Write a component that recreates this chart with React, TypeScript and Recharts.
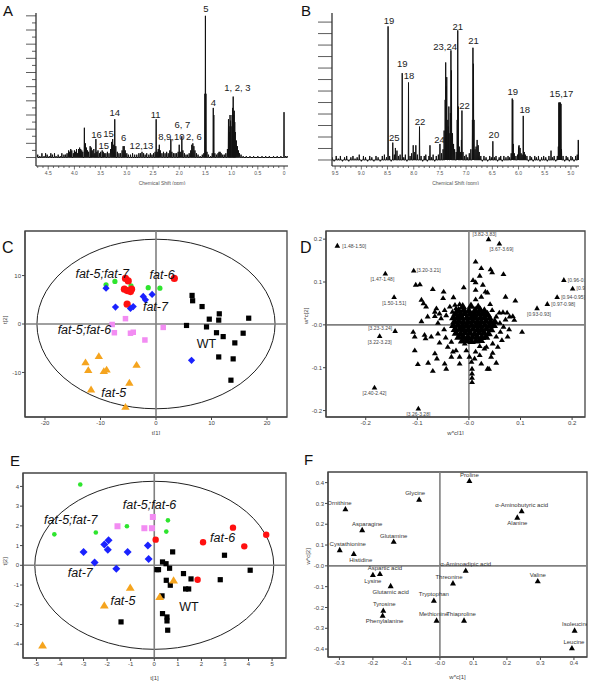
import React from 'react';
import {
  LineChart,
  Line,
  XAxis,
  YAxis,
  ReferenceDot,
  ReferenceLine,
  ReferenceArea,
  ScatterChart,
  Scatter,
} from 'recharts';

const FONT = 'Liberation Sans, Arial, Helvetica, sans-serif';

// ---- panel A : aliphatic region, [ppm, % of max]
const specA: [number, number][] = [
  [4.7, 2], [4.66, 1], [4.62, 3], [4.58, 1], [4.55, 3], [4.52, 2], [4.48, 1], [4.45, 3], [4.42, 2], [4.38, 3],
  [4.35, 1], [4.31, 2], [4.27, 1], [4.24, 3], [4.2, 2], [4.17, 2], [4.14, 3], [4.11, 5], [4.09, 4], [4.07, 6],
  [4.05, 5], [4.02, 3], [4.0, 5], [3.98, 4], [3.96, 6], [3.94, 3], [3.92, 6], [3.9, 7], [3.88, 6], [3.86, 5],
  [3.84, 4], [3.81, 21], [3.79, 10], [3.77, 7], [3.75, 5], [3.73, 4], [3.7, 8], [3.68, 7], [3.66, 5], [3.63, 6],
  [3.61, 3], [3.59, 13], [3.57, 4], [3.55, 5], [3.52, 3], [3.5, 4], [3.47, 5], [3.45, 4], [3.43, 3], [3.4, 3],
  [3.37, 4], [3.34, 3], [3.31, 6], [3.29, 11], [3.27, 13], [3.25, 9], [3.23, 27], [3.21, 8], [3.18, 4], [3.15, 3],
  [3.12, 3], [3.09, 5], [3.07, 8], [3.05, 8], [3.03, 5], [3.0, 3], [2.97, 2], [2.93, 2], [2.89, 3], [2.85, 2],
  [2.81, 2], [2.77, 3], [2.74, 3], [2.71, 4], [2.68, 3], [2.65, 2], [2.62, 3], [2.58, 2], [2.55, 3], [2.52, 2],
  [2.49, 3], [2.46, 4], [2.44, 27], [2.42, 4], [2.4, 6], [2.38, 9], [2.36, 5], [2.33, 3], [2.3, 4], [2.27, 3],
  [2.24, 4], [2.21, 3], [2.18, 5], [2.16, 13], [2.14, 4], [2.11, 3], [2.08, 3], [2.05, 3], [2.02, 4], [2.0, 9],
  [1.98, 4], [1.95, 15], [1.93, 5], [1.9, 3], [1.87, 2], [1.84, 2], [1.81, 3], [1.78, 5], [1.76, 9], [1.74, 10],
  [1.72, 8], [1.7, 5], [1.67, 3], [1.64, 2], [1.6, 1], [1.56, 2], [1.53, 3], [1.51, 45], [1.5, 100], [1.49, 45],
  [1.47, 4], [1.44, 2], [1.4, 1], [1.37, 3], [1.35, 35], [1.34, 30], [1.32, 3], [1.29, 2], [1.26, 3], [1.24, 4],
  [1.22, 4], [1.2, 3], [1.17, 2], [1.14, 2], [1.11, 3], [1.08, 6], [1.06, 27], [1.05, 22], [1.04, 18], [1.03, 30],
  [1.02, 26], [1.01, 22], [0.99, 30], [0.98, 35], [0.97, 43], [0.96, 30], [0.95, 33], [0.94, 25], [0.93, 18],
  [0.91, 12], [0.89, 8], [0.87, 5], [0.85, 3], [0.82, 2], [0.78, 1], [0.72, 1], [0.65, 1], [0.58, 1], [0.5, 1],
  [0.42, 1], [0.35, 1], [0.28, 1], [0.2, 1], [0.13, 1], [0.06, 1], [0.0, 32], [-0.03, 1], [-0.06, 1],
];
const labelsA: [string, number, number][] = [
  ['5', 1.49, 105], ['4', 1.35, 39], ['1, 2, 3', 0.89, 49], ['14', 3.23, 32], ['11', 2.45, 30.5],
  ['16', 3.58, 16], ['15', 3.35, 17], ['15', 3.44, 8.6], ['6', 3.06, 14], ['12,13', 2.72, 8.6],
  ['8,9,10', 2.15, 15], ['6, 7', 1.94, 23], ['2, 6', 1.72, 14.5],
];
const xTicksA = [
  4.7, 4.6, 4.5, 4.4, 4.3, 4.2, 4.1, 4.0, 3.9, 3.8, 3.7, 3.6, 3.5, 3.4, 3.3, 3.2, 3.1, 3.0, 2.9, 2.8, 2.7, 2.6,
  2.5, 2.4, 2.3, 2.2, 2.1, 2.0, 1.9, 1.8, 1.7, 1.6, 1.5, 1.4, 1.3, 1.2, 1.1, 1.0, 0.9, 0.8, 0.7, 0.6, 0.5, 0.4,
  0.3, 0.2, 0.1, 0,
];
const yTicksA = [0, 5, 10, 15, 20, 25, 30, 35, 40, 45, 50, 55, 60, 65, 70, 75, 80, 85, 90, 95, 100];

// ---- panel B : aromatic region
const specB: [number, number][] = [
  [9.56, 2], [9.52, -1], [9.48, 3], [9.44, 1], [9.4, 3], [9.36, -1], [9.32, 2], [9.28, 3], [9.24, -1], [9.2, 2],
  [9.16, 3], [9.12, 1], [9.08, 2], [9.04, 4], [9.0, -1], [8.96, 3], [8.92, 2], [8.88, -1], [8.84, 3], [8.8, 2],
  [8.76, -1], [8.72, 3], [8.68, 2], [8.64, -1], [8.6, 3], [8.56, 4], [8.52, 2], [8.49, 100], [8.46, 3], [8.43, -1],
  [8.4, 13], [8.37, 4], [8.35, 9], [8.32, 7], [8.29, 3], [8.26, 4], [8.22, 65], [8.19, 2], [8.16, 4], [8.13, -1],
  [8.1, 58], [8.07, 3], [8.04, 5], [8.01, 11], [7.98, 6], [7.96, 11], [7.93, 4], [7.89, 25], [7.86, 3], [7.83, -1],
  [7.8, 3], [7.77, 4], [7.74, -1], [7.71, 3], [7.69, 11], [7.66, 2], [7.63, 4], [7.6, -1], [7.57, 3], [7.53, 4],
  [7.5, 12], [7.47, 5], [7.44, 8], [7.42, 22], [7.4, 45], [7.39, 73], [7.38, 55], [7.37, 62], [7.35, 30],
  [7.34, 25], [7.33, 40], [7.31, 20], [7.3, 35], [7.29, 82], [7.28, 67], [7.26, 20], [7.24, 12], [7.22, 8],
  [7.19, 6], [7.17, 30], [7.16, 97], [7.15, 40], [7.13, 10], [7.11, 6], [7.09, 15], [7.08, 37], [7.06, 6],
  [7.03, 3], [7.0, 4], [6.97, 2], [6.94, 5], [6.91, 8], [6.88, 30], [6.87, 84], [6.86, 72], [6.85, 30], [6.83, 8],
  [6.81, 10], [6.79, 15], [6.77, 11], [6.75, 6], [6.72, 3], [6.69, -1], [6.66, 3], [6.62, 2], [6.59, -1],
  [6.55, 3], [6.52, 2], [6.49, 14], [6.46, 2], [6.43, 3], [6.4, -1], [6.37, 2], [6.34, 3], [6.31, -1], [6.28, 3],
  [6.24, 2], [6.2, 3], [6.17, 2], [6.14, 5], [6.12, 46], [6.11, 45], [6.1, 12], [6.08, 5], [6.05, 3], [6.02, 4],
  [6.0, 10], [5.99, 11], [5.97, 9], [5.95, 5], [5.93, 4], [5.91, 33], [5.89, 6], [5.87, 4], [5.84, 3], [5.81, -1],
  [5.78, 3], [5.75, 2], [5.72, -1], [5.69, 3], [5.66, 2], [5.62, 3], [5.59, -1], [5.56, 2], [5.52, 3], [5.48, 2],
  [5.45, -1], [5.42, 3], [5.38, 7], [5.35, 2], [5.32, 3], [5.29, -1], [5.26, 3], [5.24, 10], [5.23, 43],
  [5.22, 43], [5.21, 42], [5.2, 43], [5.19, 42], [5.18, 8], [5.15, 3], [5.12, -1], [5.09, 3], [5.06, 2],
  [5.03, -1], [5.0, 3], [4.97, 2], [4.94, -1], [4.91, 3], [4.88, 4], [4.86, 15], [4.85, 14],
];
const labelsB: [string, number, number][] = [
  ['19', 8.47, 104], ['25', 8.37, 17], ['19', 8.22, 72], ['18', 8.09, 63], ['22', 7.88, 29], ['24', 7.51, 15],
  ['23,24', 7.4, 85], ['21', 7.16, 100], ['21', 6.86, 89], ['22', 7.03, 41], ['20', 6.47, 19], ['19', 6.11, 51],
  ['18', 5.88, 38], ['15,17', 5.18, 50],
];
const xTicksB = [
  9.5, 9.4, 9.3, 9.2, 9.1, 9.0, 8.9, 8.8, 8.7, 8.6, 8.5, 8.4, 8.3, 8.2, 8.1, 8.0, 7.9, 7.8, 7.7, 7.6, 7.5, 7.4,
  7.3, 7.2, 7.1, 7.0, 6.9, 6.8, 6.7, 6.6, 6.5, 6.4, 6.3, 6.2, 6.1, 6.0, 5.9, 5.8, 5.7, 5.6, 5.5, 5.4, 5.3, 5.2,
  5.1, 5.0, 4.9,
];
const yTicksB = [0, 8.6, 17.2, 25.8, 34.4, 43, 51.6, 60.2, 68.8, 77.4, 86, 94.6, 103.2];

// ---- panel C : scores t[1]/t[2]
const cFat6: [number, number][] = [[-5.5, 9.4], [-5.0, 8.9], [-5.7, 7.2], [-5.2, 6.9], [-4.6, 6.7], [-4.4, 7.2], [3.3, 9.4], [-5.2, 4.1]];
const cFat57: [number, number][] = [[-9.0, 8.1], [-7.4, 8.8], [-4.5, 7.9], [-1.4, 7.5], [0.7, 7.4]];
const cFat7: [number, number][] = [[-9.0, 7.4], [-7.3, 3.5], [-4.6, 3.2], [-4.1, 3.6], [-2.3, 5.7], [-1.9, 5.0], [-0.7, 6.1], [6.4, -7.5]];
const cFat56: [number, number][] = [[-5.5, 1.1], [-7.9, -0.1], [-7.5, -1.8], [-4.6, -1.9], [-4.1, -1.7], [-2.0, -3.3], [1.3, -0.7]];
const cFat5: [number, number][] = [[-12.7, -7.9], [-12.2, -9.5], [-10.3, -6.6], [-9.4, -9.7], [-8.9, -9.4], [-3.5, -8.4], [-4.8, -12.1], [-11.7, -13.5], [-5.5, -17.1]];
const cWT: [number, number][] = [
  [6.5, 5.9], [6.6, 4.8], [8.3, 3.6], [11.4, 2.1], [9.6, 1.0], [11.3, 0.8], [16.7, 1.2], [5.5, -0.3], [9.1, -0.6],
  [10.9, -1.8], [12.1, -2.6], [15.7, -1.9], [14.2, -3.9], [11.3, -6.8], [13.9, -7.2], [13.5, -11.6],
];
const cGroupLabels: [string, number, number][] = [
  ['fat-5;fat-7', -9.7, 10.5], ['fat-6', 1.1, 10.3], ['fat-7', -0.1, 3.7], ['fat-5;fat-6', -12.9, -1.2], ['WT', 9.1, -4.1], ['fat-5', -7.6, -14.1],
];
const cXTicks = [-20, -10, 0, 10, 20];
const cYTicks = [-10, 0, 10];

// ---- panel D : loadings w*c[1]/w*c[2]
const dLabeled: [string, number, number][] = [
  ['[1.48-1.50]', -0.255, 0.185], ['[1.47-1.48]', -0.162, 0.12], ['[1.50-1.51]', -0.145, 0.065],
  ['[3.20-3.21]', -0.107, 0.127], ['[3.82-3.83]', 0.038, 0.2], ['[3.67-3.69]', 0.059, 0.19],
  ['[0.96-0.97]', 0.184, 0.105], ['[0.95-0.96]', 0.201, 0.085], ['[0.94-0.95]', 0.171, 0.065],
  ['[0.97-0.98]', 0.152, 0.049], ['[0.93-0.93]', 0.132, 0.039], ['[3.23-3.24]', -0.143, -0.014],
  ['[3.22-3.23]', -0.173, -0.026], ['[2.40-2.42]', -0.183, -0.146], ['[3.26-3.28]', -0.098, -0.195],
];
const dOuter: [number, number][] = [
  [-0.103, 0.094], [-0.095, 0.095], [-0.07, 0.084], [-0.049, 0.078], [-0.05, 0.063], [-0.03, 0.065], [-0.01, 0.088],
  [0.013, 0.148], [0.024, 0.133], [0.008, 0.105], [0.013, 0.1], [0.027, 0.094], [0.042, 0.13], [0.045, 0.123],
  [0.021, 0.115], [0.067, 0.119], [0.013, 0.082], [0.032, 0.078], [0.036, 0.076], [0.024, 0.066], [0.071, 0.066],
  [0.09, 0.057], [0.013, 0.06], [-0.092, 0.059], [-0.088, 0.051], [-0.083, 0.043], [-0.08, 0.02], [-0.092, 0.009],
  [-0.066, 0.031], [-0.066, 0.021], [-0.063, 0.039], [-0.057, 0.027], [-0.047, 0.035], [-0.044, 0.023],
  [-0.054, 0.016], [-0.037, 0.043], [-0.032, 0.031], [-0.027, 0.047], [-0.018, 0.049], [-0.025, 0.039],
  [-0.012, 0.043], [0.059, 0.029], [0.066, 0.03], [0.074, 0.029], [0.079, 0.02], [0.085, 0.021], [0.053, 0.02],
  [0.045, 0.035], [0.041, 0.049], [0.071, 0.013], [0.088, 0.012], [0.103, -0.016], [0.067, -0.004],
  [0.061, -0.016], [0.053, -0.027], [0.075, -0.027], [0.064, -0.035], [0.046, -0.043], [0.056, -0.051],
  [0.034, -0.027], [-0.108, -0.016], [-0.105, -0.027], [-0.086, -0.023], [-0.084, -0.031], [-0.073, -0.027],
  [-0.06, -0.02], [-0.057, -0.041], [-0.105, -0.059], [-0.099, -0.091], [-0.079, -0.088], [-0.066, -0.066],
  [-0.062, -0.078], [-0.07, -0.107], [-0.047, -0.09], [-0.044, -0.102], [-0.041, -0.051], [-0.045, -0.029],
  [-0.034, -0.039], [-0.031, -0.062], [-0.025, -0.059], [-0.018, -0.074], [-0.018, -0.09], [-0.034, -0.074],
  [-0.008, -0.043], [-0.005, -0.059], [0.005, -0.086], [0.006, -0.102], [0.006, -0.113], [0.006, -0.123],
  [0.006, -0.133], [0.001, -0.074], [0.011, -0.078], [0.021, -0.07], [0.024, -0.09], [0.03, -0.055],
  [0.036, -0.102], [0.039, -0.102], [0.043, -0.074], [0.053, -0.088], [0.034, -0.051], [0.046, -0.065],
  [0.013, -0.062], [0.021, -0.049], [-0.06, 0.005], [-0.048, -0.01], [0.06, 0.005], [0.078, -0.01],
];
const dCore: [number, number][] = [
  [-0.012, 0.044], [0.004, 0.045], [0.018, 0.043],
  [-0.02, 0.035], [-0.01, 0.036], [0.0, 0.034], [0.012, 0.035], [0.022, 0.036], [0.03, 0.034],
  [-0.026, 0.027], [-0.017, 0.026], [-0.008, 0.028], [0.002, 0.027], [0.01, 0.026], [0.019, 0.028], [0.028, 0.027], [0.036, 0.026],
  [-0.03, 0.018], [-0.022, 0.019], [-0.013, 0.017], [-0.004, 0.018], [0.005, 0.019], [0.013, 0.017], [0.022, 0.018], [0.03, 0.019], [0.04, 0.017],
  [-0.028, 0.009], [-0.02, 0.01], [-0.011, 0.008], [-0.002, 0.009], [0.007, 0.01], [0.016, 0.008], [0.024, 0.009], [0.033, 0.01], [0.042, 0.008], [0.05, 0.009],
  [-0.03, 0.0], [-0.021, 0.001], [-0.012, -0.001], [-0.004, 0.0], [0.005, 0.001], [0.014, -0.001], [0.022, 0.0], [0.031, 0.001], [0.04, -0.001], [0.048, 0.0],
  [-0.027, -0.009], [-0.018, -0.008], [-0.01, -0.01], [-0.001, -0.009], [0.008, -0.008], [0.017, -0.01], [0.025, -0.009], [0.034, -0.008], [0.043, -0.01],
  [-0.025, -0.018], [-0.016, -0.019], [-0.007, -0.017], [0.002, -0.018], [0.011, -0.019], [0.02, -0.017], [0.029, -0.018], [0.038, -0.019],
  [-0.02, -0.027], [-0.011, -0.026], [-0.002, -0.028], [0.007, -0.027], [0.016, -0.026], [0.025, -0.028], [0.033, -0.027],
  [-0.013, -0.036], [-0.004, -0.035], [0.005, -0.037], [0.014, -0.036], [0.023, -0.035],
];
const dXTicks = [-0.2, -0.1, 0, 0.1, 0.2];
const dYTicks = [-0.2, -0.1, 0, 0.1, 0.2];

// ---- panel E : scores
const eFat57: [number, number][] = [[-3.14, 4.1], [-4.24, 1.57], [-2.48, 1.66], [-1.16, 1.98], [0.58, 2.28], [0.51, 1.71]];
const eFat56: [number, number][] = [[-1.56, 1.98], [-0.42, 1.88], [-0.06, 2.45], [-0.1, 1.88]];
const eFat6: [number, number][] = [[0.06, 1.3], [2.07, 1.17], [3.34, 1.91], [3.82, 0.96], [4.75, 1.55], [1.84, -0.73]];
const eFat7: [number, number][] = [[-3.0, 0.68], [-2.53, 0.14], [-2.12, 1.06], [-1.94, 1.27], [-1.97, 0.79], [-1.61, -0.17], [-1.13, 0.68], [-0.27, 1.01], [-0.24, 0.32]];
const eWT: [number, number][] = [
  [0.78, 0.68], [2.98, 0.51], [4.07, -0.25], [0.11, -0.22], [0.18, -0.22], [0.35, 0.17], [0.5, 0.08], [0.65, -0.15],
  [0.51, -0.76], [0.68, -1.01], [1.24, -0.42], [1.56, -0.69], [1.33, -1.2], [1.46, -1.2], [2.8, -0.73], [0.35, -2.45],
  [0.54, -2.62], [0.54, -2.82], [0.57, -3.29], [-1.41, -2.87], [0.33, -1.55],
];
const eFat5: [number, number][] = [[-1.02, -1.13], [-2.12, -2.03], [0.23, -1.6], [0.82, -0.76], [-4.74, -4.05]];
const eGroupLabels: [string, number, number][] = [
  ['fat-5;fat-6', -0.2, 3.07], ['fat-5;fat-7', -3.54, 2.33], ['fat-6', 2.9, 1.4], ['fat-7', -3.14, -0.39], ['fat-5', -1.33, -1.81], ['WT', 1.47, -2.08],
];
const eXTicks = [-5, -4, -3, -2, -1, 0, 1, 2, 3, 4, 5];
const eYTicks = [-4, -3, -2, -1, 0, 1, 2, 3, 4];

// ---- panel F : amino acid loadings
const fAmino: [string, number, number][] = [
  ['Proline', 0.088, 0.409], ['Glycine', -0.062, 0.319], ['Ornithine', -0.282, 0.273],
  ['\u03b1-Aminobutyric acid', 0.244, 0.264], ['Alanine', 0.231, 0.233], ['Asparagine', -0.232, 0.173],
  ['Glutamine', -0.138, 0.117], ['Cystathionine', -0.299, 0.077], ['Histidine', -0.257, 0.058],
  ['Aspartic acid', -0.179, -0.038], ['Lysine', -0.2, -0.043], ['\u03b1-Aminoadipic acid', 0.077, -0.022],
  ['Threonine', 0.039, -0.083], ['Valine', 0.292, -0.073], ['Glutamic acid', -0.147, -0.096],
  ['Tryptophan', -0.018, -0.166], ['Tyrosine', -0.169, -0.214], ['Phenylalanine', -0.171, -0.238],
  ['Methionine', -0.01, -0.262], ['Thiaproline', 0.072, -0.262], ['Isoleucine', 0.402, -0.31],
  ['Leucine', 0.394, -0.395],
];
const fXTicks = [-0.3, -0.2, -0.1, 0, 0.1, 0.2, 0.3, 0.4];
const fYTicks = [-0.4, -0.3, -0.2, -0.1, 0, 0.1, 0.2, 0.3, 0.4];

// label placement (dx, dy, anchor)
const dPlace: Record<string, [number, number, string]> = {
  '[1.48-1.50]': [5, 2, 'start'], '[1.47-1.48]': [-3, 8, 'middle'], '[1.50-1.51]': [0, 8, 'middle'],
  '[3.20-3.21]': [3, 2, 'start'], '[3.82-3.83]': [-4, -3, 'middle'], '[3.67-3.69]': [2, 8, 'middle'],
  '[0.96-0.97]': [4, 2, 'start'], '[0.95-0.96]': [4, 2, 'start'], '[0.94-0.95]': [4, 2, 'start'],
  '[0.97-0.98]': [4, 2, 'start'], '[0.93-0.93]': [2, 8, 'middle'], '[3.23-3.24]': [-3, -1, 'end'],
  '[3.22-3.23]': [0, 8, 'middle'], '[2.40-2.42]': [0, 8, 'middle'], '[3.26-3.28]': [0, 8, 'middle'],
};
const fPlace: Record<string, [number, number]> = {
  Proline: [0, -4], Glycine: [-4, -4], Ornithine: [-6, -4], '\u03b1-Aminobutyric acid': [0, -4],
  Alanine: [0, 8], Asparagine: [5, -4], Glutamine: [0, -4], Cystathionine: [8, -4], Histidine: [7, 8],
  'Aspartic acid': [5, -4], Lysine: [0, 8], '\u03b1-Aminoadipic acid': [0, -4], Threonine: [-4, -4],
  Valine: [0, -4], 'Glutamic acid': [0, 8], Tryptophan: [0, -4], Tyrosine: [1, -4], Phenylalanine: [2, 8],
  Methionine: [-3, -4], Thiaproline: [-3, -4], Isoleucine: [1, -4], Leucine: [2, -4],
};

const spikes = (peaks: [number, number][]) => {
  const out: { ppm: number; v: number }[] = [];
  peaks.forEach(([p, h]) => {
    out.push({ ppm: p + 0.005, v: 0 });
    out.push({ ppm: p, v: h });
    out.push({ ppm: p - 0.005, v: 0 });
  });
  return out;
};
const pts = (a: [number, number][]) => a.map(([x, y]) => ({ x, y }));

const fmtPpm = (v: number) => (v === 0 ? '0' : v.toFixed(1));
const isHalf = (v: number) => Math.abs(v * 2 - Math.round(v * 2)) < 1e-6;

const SpecXTick = (props: any) => {
  const { x, y, payload } = props;
  const major = isHalf(payload.value);
  return (
    <g>
      <line x1={x} x2={x} y1={y} y2={y + (major ? 3.5 : 2)} stroke="#333" strokeWidth={0.7} />
      {major && (
        <text x={x} y={y + 9} textAnchor="middle" fontSize={5} fill="#555" fontFamily={FONT}>
          {fmtPpm(payload.value)}
        </text>
      )}
    </g>
  );
};
const makeYTick = (major: (v: number) => boolean, long: number, short: number) => (props: any) => {
  const { x, y, payload } = props;
  const len = major(payload.value) ? long : short;
  return <line x1={x - len} x2={x} y1={y} y2={y} stroke="#333" strokeWidth={0.8} />;
};
const YTickA = makeYTick((v) => v % 10 === 0, 10, 4);
const YTickB = makeYTick(() => true, 14, 14);

const circle = (fill: string, r: number) => (p: any) => <circle cx={p.cx} cy={p.cy} r={r} fill={fill} />;
const square = (fill: string, s: number) => (p: any) => (
  <rect x={p.cx - s / 2} y={p.cy - s / 2} width={s} height={s} fill={fill} />
);
const diamond = (fill: string, s: number) => (p: any) => (
  <polygon points={`${p.cx},${p.cy - s} ${p.cx + s},${p.cy} ${p.cx},${p.cy + s} ${p.cx - s},${p.cy}`} fill={fill} />
);
const tri = (fill: string, s: number) => (p: any) => (
  <polygon
    points={`${p.cx},${p.cy - s} ${p.cx + s * 1.1},${p.cy + s * 0.8} ${p.cx - s * 1.1},${p.cy + s * 0.8}`}
    fill={fill}
  />
);

const ellipseShape = (p: any) => (
  <ellipse
    cx={p.x + p.width / 2}
    cy={p.y + p.height / 2}
    rx={Math.abs(p.width) / 2}
    ry={Math.abs(p.height) / 2}
    fill="none"
    stroke="#222"
    strokeWidth={1}
  />
);

const tickStyle = { fontSize: 6, fill: '#444', fontFamily: FONT };
const axLabel = { fontSize: 6, fill: '#444', fontFamily: FONT };
const fmtZero = (v: number) => (v === 0 ? '-0.0' : v.toFixed(1));

const RED = '#ff1010';
const GREEN = '#2ee52e';
const BLUE = '#1a22ff';
const PINK = '#f28cf2';
const ORANGE = '#f5a41e';

function Spectrum({ data, labels, domain, xTicks, yTicks, yTick, yDomain, margin }: any) {
  return (
    <LineChart width={300} height={185} data={spikes(data)} margin={margin}>
      <XAxis
        type="number"
        dataKey="ppm"
        domain={domain}
        reversed
        allowDataOverflow
        ticks={xTicks}
        interval={0}
        tick={<SpecXTick />}
        tickLine={false}
        tickSize={0}
        tickMargin={0}
        height={19}
        axisLine={{ stroke: '#222', strokeWidth: 1.2 }}
        label={{ value: 'Chemical Shift (ppm)', position: 'insideBottom', offset: 0, fontSize: 5, fill: '#555', fontFamily: FONT }}
      />
      <YAxis
        type="number"
        domain={yDomain}
        allowDataOverflow
        ticks={yTicks}
        interval={0}
        tick={yTick}
        tickLine={false}
        tickSize={0}
        tickMargin={0}
        width={10}
        axisLine={{ stroke: '#222', strokeWidth: 1.2 }}
      />
      <Line type="linear" dataKey="v" stroke="#111" strokeWidth={1} dot={false} isAnimationActive={false} />
      {labels.map(([t, x, y]: any, i: number) => (
        <ReferenceDot
          key={i}
          x={x}
          y={y}
          r={0}
          fill="none"
          stroke="none"
          ifOverflow="visible"
          label={{ value: t, position: 'center', fontSize: 9.5, fill: '#222', fontFamily: FONT }}
        />
      ))}
    </LineChart>
  );
}

function ScoreAxes({ xd, yd, xt, yt, xh, yw, xl, yl, ex, ey, fmt }: any) {
  return [
    <XAxis
      key="x"
      type="number"
      dataKey="x"
      domain={xd}
      allowDataOverflow
      ticks={xt}
      interval={0}
      tick={tickStyle}
      tickSize={3}
      tickMargin={1}
      tickFormatter={fmt}
      height={xh}
      axisLine={{ stroke: '#444', strokeWidth: 1.2 }}
      tickLine={{ stroke: '#444' }}
      label={{ value: xl, position: 'insideBottom', offset: 0, ...axLabel }}
    />,
    <YAxis
      key="y"
      type="number"
      dataKey="y"
      domain={yd}
      allowDataOverflow
      ticks={yt}
      interval={0}
      tick={tickStyle}
      tickSize={3}
      tickMargin={1}
      tickFormatter={fmt}
      width={yw}
      axisLine={{ stroke: '#444', strokeWidth: 1.2 }}
      tickLine={{ stroke: '#444' }}
      label={{ value: yl, angle: -90, position: 'insideLeft', offset: 0, ...axLabel }}
    />,
    <ReferenceArea key="frame" x1={xd[0]} x2={xd[1]} y1={yd[0]} y2={yd[1]} fill="none" stroke="#444" strokeWidth={1.3} strokeOpacity={1} fillOpacity={0} />,
    <ReferenceLine key="vx" x={0} stroke="#808080" strokeWidth={1.6} />,
    <ReferenceLine key="hy" y={0} stroke="#808080" strokeWidth={1.6} />,
    ex ? (
      <ReferenceArea key="ell" x1={-ex} x2={ex} y1={-ey} y2={ey} shape={ellipseShape} ifOverflow="visible" />
    ) : null,
  ];
}

const groupLabel = (list: [string, number, number][]) =>
  list.map(([t, x, y], i) => (
    <ReferenceDot
      key={'g' + i}
      x={x}
      y={y}
      r={0}
      fill="none"
      stroke="none"
      ifOverflow="visible"
      label={{
        value: t,
        position: 'center',
        fontSize: 12.5,
        fontStyle: t === 'WT' ? 'normal' : 'italic',
        fill: '#111',
        fontFamily: FONT,
      }}
    />
  ));

const dLabelShape = (p: any) => {
  const pl = dPlace[p.payload.name] || [0, 8, 'middle'];
  return (
    <g>
      <polygon points={`${p.cx},${p.cy - 2.8} ${p.cx + 2.8},${p.cy + 2.1} ${p.cx - 2.8},${p.cy + 2.1}`} fill="#000" />
      <text x={p.cx + pl[0]} y={p.cy + pl[1]} textAnchor={pl[2]} fontSize={5} fill="#444" fontFamily={FONT}>
        {p.payload.name}
      </text>
    </g>
  );
};
const fLabelShape = (p: any) => {
  const pl = fPlace[p.payload.name] || [0, -4];
  return (
    <g>
      <polygon points={`${p.cx},${p.cy - 3} ${p.cx + 3},${p.cy + 2.3} ${p.cx - 3},${p.cy + 2.3}`} fill="#000" />
      <text x={p.cx + pl[0]} y={p.cy + pl[1]} textAnchor="middle" fontSize={6} fill="#333" fontFamily={FONT}>
        {p.payload.name}
      </text>
    </g>
  );
};

const letter = (t: string, left: number, top: number, size = 16) => (
  <div style={{ position: 'absolute', left, top, fontSize: size, fontFamily: FONT, lineHeight: 1, color: '#111' }}>{t}</div>
);

export default function App() {
  const box = (left: number, top: number) => ({ position: 'absolute' as const, left, top });
  return (
    <div style={{ position: 'absolute', left: 0, top: 0, width: 600, height: 690, background: '#fff', overflow: 'hidden' }}>
      <div style={box(0, 0)}>
        <Spectrum
          data={specA}
          labels={labelsA}
          domain={[-0.076, 4.733]}
          xTicks={xTicksA}
          yTicks={yTicksA}
          yTick={<YTickA />}
          yDomain={[-6, 102]}
          margin={{ top: 13, right: 12, left: 26, bottom: 0 }}
        />
      </div>
      <div style={box(300, 0)}>
        <Spectrum
          data={specB}
          labels={labelsB}
          domain={[4.846, 9.56]}
          xTicks={xTicksB}
          yTicks={yTicksB}
          yTick={<YTickB />}
          yDomain={[-4.5, 110]}
          margin={{ top: 13, right: 21, left: 22, bottom: 0 }}
        />
      </div>

      <div style={box(0, 200)}>
        <ScatterChart width={300} height={235} margin={{ top: 31, right: 13, left: 5, bottom: 0 }}>
          {ScoreAxes({ xd: [-23.6, 23.6], yd: [-19.2, 19.2], xt: cXTicks, yt: cYTicks, xh: 18, yw: 20, xl: 't[1]', yl: 't[2]', ex: 21.45, ey: 17.5 })}
          <Scatter data={pts(cFat57)} shape={circle(GREEN, 2.6)} isAnimationActive={false} />
          <Scatter data={pts(cFat6)} shape={circle(RED, 3.6)} isAnimationActive={false} />
          <Scatter data={pts(cFat7)} shape={diamond(BLUE, 3.6)} isAnimationActive={false} />
          <Scatter data={pts(cFat56)} shape={square(PINK, 5.5)} isAnimationActive={false} />
          <Scatter data={pts(cFat5)} shape={tri(ORANGE, 3.8)} isAnimationActive={false} />
          <Scatter data={pts(cWT)} shape={square('#000', 5.2)} isAnimationActive={false} />
          {groupLabel(cGroupLabels)}
        </ScatterChart>
      </div>

      <div style={box(300, 200)}>
        <ScatterChart width={300} height={235} margin={{ top: 31, right: 15, left: 6, bottom: 0 }}>
          {ScoreAxes({ xd: [-0.277, 0.225], yd: [-0.215, 0.219], xt: dXTicks, yt: dYTicks, xh: 18, yw: 20, xl: 'w*c[1]', yl: 'w*c[2]', fmt: fmtZero })}
          <Scatter data={pts(dCore)} shape={tri('#000', 4)} isAnimationActive={false} />
          <Scatter data={pts(dOuter)} shape={tri('#000', 2.7)} isAnimationActive={false} />
          <Scatter data={dLabeled.map(([name, x, y]) => ({ name, x, y }))} shape={dLabelShape} isAnimationActive={false} />
        </ScatterChart>
      </div>

      <div style={box(0, 450)}>
        <ScatterChart width={300} height={240} margin={{ top: 23, right: 14, left: 5, bottom: 10 }}>
          {ScoreAxes({ xd: [-5.57, 5.59], yd: [-4.7, 4.68], xt: eXTicks, yt: eYTicks, xh: 22, yw: 18, xl: 't[1]', yl: 't[2]', ex: 5.07, ey: 4.26 })}
          <Scatter data={pts(eFat57)} shape={circle(GREEN, 2.3)} isAnimationActive={false} />
          <Scatter data={pts(eFat56)} shape={square(PINK, 6)} isAnimationActive={false} />
          <Scatter data={pts(eFat6)} shape={circle(RED, 3.2)} isAnimationActive={false} />
          <Scatter data={pts(eFat7)} shape={diamond(BLUE, 4)} isAnimationActive={false} />
          <Scatter data={pts(eWT)} shape={square('#000', 5.2)} isAnimationActive={false} />
          <Scatter data={pts(eFat5)} shape={tri(ORANGE, 4)} isAnimationActive={false} />
          {groupLabel(eGroupLabels)}
        </ScatterChart>
      </div>

      <div style={box(300, 450)}>
        <ScatterChart width={300} height={240} margin={{ top: 22, right: 13, left: 8, bottom: 11 }}>
          {ScoreAxes({ xd: [-0.334, 0.439], yd: [-0.438, 0.451], xt: fXTicks, yt: fYTicks, xh: 22, yw: 20, xl: 'w*c[1]', yl: 'w*c[2]', fmt: fmtZero })}
          <Scatter data={fAmino.map(([name, x, y]) => ({ name, x, y }))} shape={fLabelShape} isAnimationActive={false} />
        </ScatterChart>
      </div>

      {letter('A', 3, 3, 15)}
      {letter('B', 301, 3, 15)}
      {letter('C', 2, 240, 16)}
      {letter('D', 300, 240, 16)}
      {letter('E', 10, 453, 15)}
      {letter('F', 304, 452, 15)}
    </div>
  );
}
